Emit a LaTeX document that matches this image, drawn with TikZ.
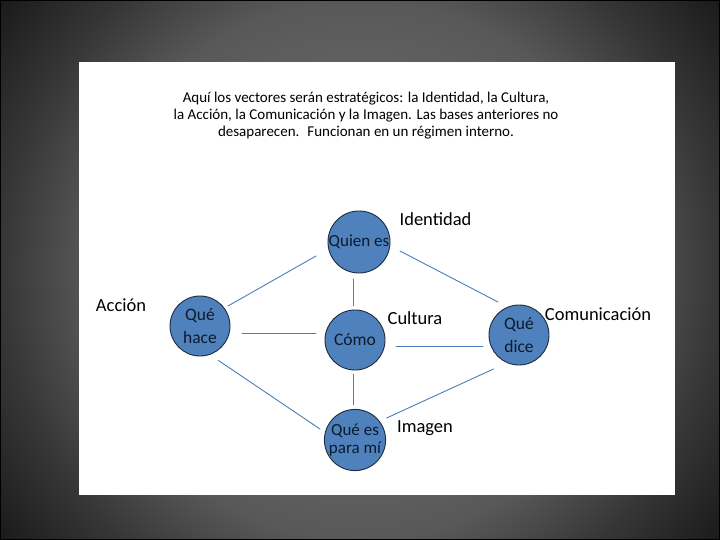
\documentclass[tikz,border=0pt]{standalone}
\usepackage{fontspec}
\setmainfont{Carlito}
\definecolor{slidecentre}{HTML}{7A7A7A}
\definecolor{slidelight}{HTML}{585858}
\definecolor{slidemid}{HTML}{363636}
\definecolor{slidedark}{HTML}{1A1A1A}
\definecolor{ballfill}{HTML}{4F81BD}
\definecolor{balledge}{HTML}{1C2B40}
\definecolor{balltext}{HTML}{0E1A2C}
\definecolor{linkblue}{HTML}{4A7EBB}
\pgfdeclareradialshading{slideglow}{\pgfpoint{0bp}{0bp}}{%
  color(0bp)=(slidecentre);
  color(15bp)=(slidelight);
  color(20bp)=(slidemid);
  color(25bp)=(slidedark);
  color(50bp)=(slidedark)}
\begin{document}
\begin{tikzpicture}[x=1pt,y=-1pt,line cap=round,line join=round,
    ball/.style={circle,draw=balledge,line width=0.9pt,fill=ballfill,
      minimum size=60pt,inner sep=0pt,align=center,text=balltext,
      font=\fontsize{17.5}{23}\selectfont},
    smallball/.style={ball,font=\fontsize{17}{18}\selectfont},
    tag/.style={inner sep=0pt,font=\fontsize{18.5}{20}\selectfont},
    link/.style={draw=linkblue,line width=0.9pt}]
  \useasboundingbox (0,0) rectangle (720,540);
  \begin{scope}
    \clip (0,0) rectangle (720,540);
    \shade[shading=slideglow] (-90,-180) rectangle (810,720);
  \end{scope}
  \draw[black,line width=2pt] (0,0) rectangle (720,540);
  \fill[white] (79,62) rectangle (675,495);
  \node[align=center,inner sep=0pt,font=\fontsize{15}{17}\selectfont] (title) at (366,116)
    {Aquí los vectores serán estratégicos: la Identidad, la Cultura,\\
     la Acción, la Comunicación y la Imagen. Las bases anteriores no\\
     desaparecen.~ Funcionan en un régimen interno.};
  % the five vectors
  \node[smallball] (quien) at (359,242) {Quien es};
  \node[ball] (hace) at (200,326) {Qué\\hace};
  \node[ball] (como) at (355,340) {Cómo};
  \node[ball] (dice) at (519,335) {Qué\\dice};
  \node[smallball] (mi) at (355,440) {Qué es\\para mí};
  \node[tag] (identidad) at (435.5,219) {Identidad};
  \node[tag] (accion) at (121,305) {Acción};
  \node[tag] (cultura) at (415,318.5) {Cultura};
  \node[tag] (comunicacion) at (598,314) {Comunicación};
  \node[tag] (imagen) at (425,428) {Imagen};
  % connectors, with a gap at each end
  \draw[link] ([shift={(-43,14)}]quien.center) -- ([shift={(28,-20)}]hace.center);
  \draw[link] ([shift={(-5.5,37)}]quien.center) -- ([shift={(-1.5,-34)}]como.center);
  \draw[link] ([shift={(41,9)}]quien.center) -- ([shift={(-21,-33)}]dice.center);
  \draw[link] ([shift={(42,7)}]hace.center) -- ([shift={(-39,-7)}]como.center);
  \draw[link] ([shift={(41,6)}]como.center) -- ([shift={(-36,11)}]dice.center);
  \draw[link] ([shift={(18.5,34.5)}]hace.center) -- ([shift={(-35,-11)}]mi.center);
  \draw[link] ([shift={(-1.5,34)}]como.center) -- ([shift={(-1.5,-35)}]mi.center);
  \draw[link] ([shift={(-25.5,34)}]dice.center) -- ([shift={(31.6,-22)}]mi.center);
\end{tikzpicture}
\end{document}
